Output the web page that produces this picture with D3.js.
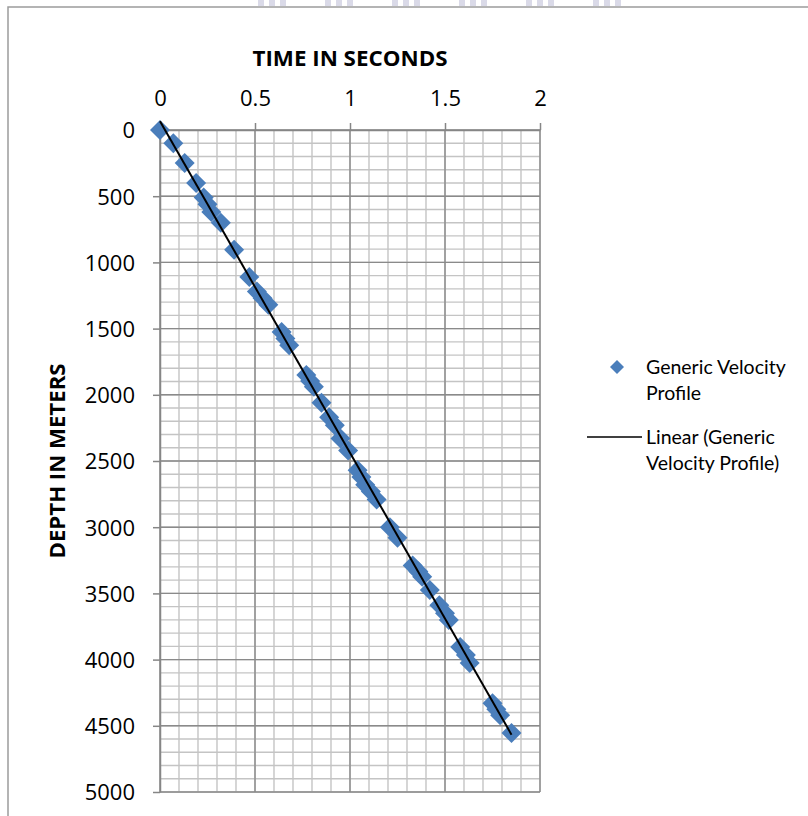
<!DOCTYPE html>
<html>
<head>
<meta charset="utf-8">
<script src="https://cdn.jsdelivr.net/npm/d3@7"></script>
<style>
  body { margin: 0; background: #fff; }
  svg text { font-family: "Open Sans", Lato, sans-serif; fill: #000; }
</style>
</head>
<body>
<svg id="chart" width="808" height="816"></svg>
<script>
// travel time (s) against depth (m)
var times  = [0, 0.07, 0.13, 0.19, 0.23, 0.25, 0.27, 0.32, 0.39, 0.47, 0.51, 0.54, 0.57,
              0.64, 0.66, 0.68, 0.77, 0.79, 0.81, 0.85, 0.89, 0.92, 0.95, 0.99, 1.04, 1.06,
              1.08, 1.11, 1.14, 1.21, 1.25, 1.33, 1.36, 1.38, 1.42, 1.47, 1.50, 1.52,
              1.58, 1.61, 1.63, 1.75, 1.77, 1.79, 1.85];
var depths = [0, 100, 250, 400, 510, 560, 620, 700, 905, 1110, 1220, 1270, 1320,
              1525, 1575, 1625, 1850, 1895, 1940, 2060, 2170, 2230, 2330, 2420, 2570, 2620,
              2680, 2730, 2790, 3000, 3080, 3290, 3335, 3375, 3475, 3590, 3650, 3700,
              3905, 3965, 4025, 4330, 4375, 4420, 4555];

var xTicks = [0, 0.5, 1, 1.5, 2];
var yTicks = [0, 500, 1000, 1500, 2000, 2500, 3000, 3500, 4000, 4500, 5000];
var xMinor = d3.range(0, 21).map(function(i) { return i / 10; });
var yMinor = d3.range(0, 51).map(function(i) { return i * 100; });

var seriesName = ['Generic Velocity', 'Profile'];
var trendName  = ['Linear (Generic', 'Velocity Profile)'];

var svg = d3.select('#chart');
var blue = '#4a7ebb';

var x = d3.scaleLinear().domain([0, 2]).range([160, 540]);
var y = d3.scaleLinear().domain([0, 5000]).range([130, 792]);

function diamondPath(r) {
  return 'M0,' + (-r) + 'L' + r + ',0L0,' + r + 'L' + (-r) + ',0Z';
}

// faint scan marks above the frame
var marks = svg.append('g');
[258, 325, 392, 459, 526, 593].forEach(function(gx) {
  [0, 11, 22].forEach(function(o) {
    marks.append('rect').attr('x', gx + o).attr('y', 0).attr('width', 6).attr('height', 6)
      .attr('fill', '#dadae8');
  });
});

// chart frame (runs off the right and bottom)
svg.append('path').attr('d', 'M8,816 V7 H808')
  .attr('fill', 'none').attr('stroke', '#9c9c9c').attr('stroke-width', 1.5);

// minor grid
var grid = svg.append('g');
grid.selectAll('.vx').data(xMinor).enter().append('line')
  .attr('x1', function(d) { return x(d); }).attr('x2', function(d) { return x(d); })
  .attr('y1', y(0)).attr('y2', y(5000))
  .attr('stroke', '#c4c4c4').attr('stroke-width', 1.4);
grid.selectAll('.hy').data(yMinor).enter().append('line')
  .attr('y1', function(d) { return y(d); }).attr('y2', function(d) { return y(d); })
  .attr('x1', x(0)).attr('x2', x(2))
  .attr('stroke', '#c4c4c4').attr('stroke-width', 1.4);

// major grid
grid.selectAll('.mx').data(xTicks).enter().append('line')
  .attr('x1', function(d) { return x(d); }).attr('x2', function(d) { return x(d); })
  .attr('y1', y(0)).attr('y2', y(5000))
  .attr('stroke', '#8a8a8a').attr('stroke-width', 1.4);
grid.selectAll('.my').data(yTicks).enter().append('line')
  .attr('y1', function(d) { return y(d); }).attr('y2', function(d) { return y(d); })
  .attr('x1', x(0)).attr('x2', x(2))
  .attr('stroke', '#8a8a8a').attr('stroke-width', 1.4);

// axes
var xAxis = svg.append('g').attr('transform', 'translate(0,' + y(0) + ')')
  .call(d3.axisTop(x).tickValues(xTicks).tickFormat(d3.format('')).tickSizeInner(7).tickSizeOuter(0).tickPadding(17));
var yAxis = svg.append('g').attr('transform', 'translate(' + x(0) + ',0)')
  .call(d3.axisLeft(y).tickValues(yTicks).tickFormat(d3.format('')).tickSizeInner(7).tickSizeOuter(0).tickPadding(18));
[xAxis, yAxis].forEach(function(a) {
  a.select('.domain').attr('stroke', '#868686').attr('stroke-width', 1.5);
  a.selectAll('.tick line').attr('stroke', '#868686').attr('stroke-width', 1.5);
  a.selectAll('.tick text').style('font-size', '22px').style('font-family', '"Open Sans", sans-serif').attr('fill', '#000');
});
xAxis.selectAll('.tick text').attr('dy', '0');
yAxis.selectAll('.tick text').attr('dy', '0.36em');

// axis titles
svg.append('text').attr('x', 350).attr('y', 66).attr('text-anchor', 'middle')
  .style('font-size', '22px').style('font-weight', 'bold')
  .attr('textLength', 195).attr('lengthAdjust', 'spacingAndGlyphs')
  .text('TIME IN SECONDS');
svg.append('text').attr('transform', 'translate(65,461) rotate(-90)').attr('text-anchor', 'middle')
  .style('font-size', '22px').style('font-weight', 'bold')
  .attr('textLength', 195).attr('lengthAdjust', 'spacingAndGlyphs')
  .text('DEPTH IN METERS');

// points
var pts = times.map(function(t, i) { return [t, depths[i]]; });
svg.append('g').selectAll('path').data(pts).enter().append('path')
  .attr('d', diamondPath(10))
  .attr('transform', function(d) { return 'translate(' + x(d[0]) + ',' + y(d[1]) + ')'; })
  .attr('fill', blue);

// least squares trend line over the data range
var mx = d3.mean(times), my = d3.mean(depths);
var sxy = d3.sum(pts, function(d) { return (d[0] - mx) * (d[1] - my); });
var sxx = d3.sum(pts, function(d) { return (d[0] - mx) * (d[0] - mx); });
var slope = sxy / sxx, icpt = my - slope * mx;
var t0 = d3.min(times), t1 = d3.max(times);
svg.append('line')
  .attr('x1', x(t0)).attr('y1', y(icpt + slope * t0))
  .attr('x2', x(t1)).attr('y2', y(icpt + slope * t1))
  .attr('stroke', '#000').attr('stroke-width', 2);

// legend
var lg = svg.append('g');
lg.append('path').attr('d', diamondPath(7))
  .attr('transform', 'translate(617,367)').attr('fill', blue);
lg.append('line').attr('x1', 587).attr('x2', 642).attr('y1', 437).attr('y2', 437)
  .attr('stroke', '#000').attr('stroke-width', 1.5);
seriesName.forEach(function(s, i) {
  lg.append('text').attr('x', 646).attr('y', 374 + i * 26).style('font-size', '19.5px')
    .style('font-family', 'Lato, sans-serif').text(s);
});
trendName.forEach(function(s, i) {
  lg.append('text').attr('x', 646).attr('y', 444 + i * 26).style('font-size', '19.5px')
    .style('font-family', 'Lato, sans-serif').text(s);
});
</script>
</body>
</html>
